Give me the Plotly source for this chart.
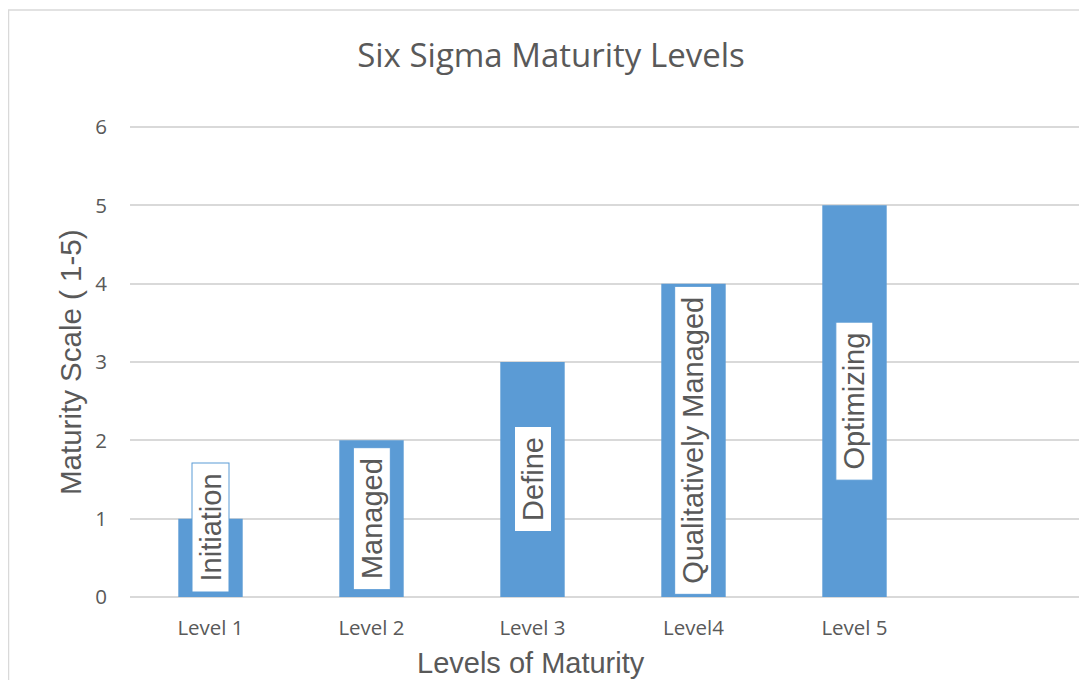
import plotly.graph_objects as go

categories = ["Level 1", "Level 2", "Level 3", "Level4", "Level 5", " "]
values = [1, 2, 3, 4, 5, None]
labels = ["Initiation", "Managed", "Define", "Qualitatively Managed", "Optimizing", ""]
y_ticks = [0, 1, 2, 3, 4, 5, 6]

TEXT = "#595959"
BAR = "#5B9BD5"
GRID = "#D9D9D9"

OFF = 8  # page body margin
W, H = 1087 - OFF, 680 - OFF
L, R, T, B = 130 - OFF, 0, 127 - OFF - 1, H - (597 - OFF)
pw, ph = W - L - R, H - T - B
CAT_PX = 161  # category slot width in the reference


def px_to_paper_x(px):
    return (px - OFF - L) / pw


def px_to_paper_y(py):
    return (H - B - (py - OFF)) / ph


fig = go.Figure()
fig.add_trace(go.Bar(
    x=categories, y=values, width=0.4,
    marker=dict(color=BAR, line=dict(width=0)),
    hoverinfo="x+y", showlegend=False,
))

label_font = dict(family="Liberation Sans, Arial", size=29, color=TEXT)
annotations = []
for cat, val, lab in zip(categories, values, labels):
    if val is None or not lab:
        continue
    common = dict(
        x=cat, xref="x", yref="y", text=f" {lab} ", textangle=-90,
        showarrow=False, xanchor="center",
        bgcolor="white", bordercolor=BAR, borderwidth=1, borderpad=2,
        font=label_font,
    )
    if val >= 2:
        annotations.append(dict(y=val / 2, yanchor="middle", **common))
    else:
        annotations.append(dict(y=0, yanchor="bottom", yshift=4, **common))

# axis titles
annotations.append(dict(
    x=px_to_paper_x(531), y=px_to_paper_y(663), xref="paper", yref="paper",
    text="Levels of Maturity", showarrow=False, xanchor="center", yanchor="middle",
    font=dict(family="Liberation Sans, Arial", size=29, color=TEXT),
))
annotations.append(dict(
    x=px_to_paper_x(70), y=px_to_paper_y(362), xref="paper", yref="paper",
    text="Maturity Scale ( 1-5)", textangle=-90, showarrow=False,
    xanchor="center", yanchor="middle",
    font=dict(family="Liberation Sans, Arial", size=29.5, color=TEXT),
))

fig.update_layout(
    width=W, height=H,
    margin=dict(l=L, r=R, t=T, b=B),
    paper_bgcolor="white", plot_bgcolor="white",
    title=dict(
        text="Six Sigma Maturity Levels",
        x=(551 - OFF) / W, xanchor="center", xref="container",
        y=1 - (55 - OFF) / H, yanchor="middle", yref="container",
        font=dict(family="Open Sans", size=33, color=TEXT),
    ),
    annotations=annotations,
    shapes=[dict(
        type="rect", xref="paper", yref="paper",
        x0=px_to_paper_x(8.5), x1=px_to_paper_x(1095),
        y0=px_to_paper_y(700), y1=px_to_paper_y(10),
        line=dict(color=GRID, width=1.5), fillcolor="rgba(0,0,0,0)", layer="below",
    )],
)

fig.update_xaxes(
    type="category", range=[-0.5, -0.5 + pw / CAT_PX],
    showgrid=False, showline=False, zeroline=False, ticks="",
    tickfont=dict(family="Open Sans", size=20.5, color=TEXT),
    ticklabelstandoff=16,
)
fig.update_yaxes(
    range=[0, 6.013], tickvals=y_ticks, showgrid=True, gridcolor=GRID, gridwidth=1.5,
    zeroline=True, zerolinecolor=GRID, zerolinewidth=1.5, showline=False, ticks="",
    tickfont=dict(family="Open Sans", size=20.5, color=TEXT),
    ticklabelstandoff=22,
)

fig.write_html("out.html")
